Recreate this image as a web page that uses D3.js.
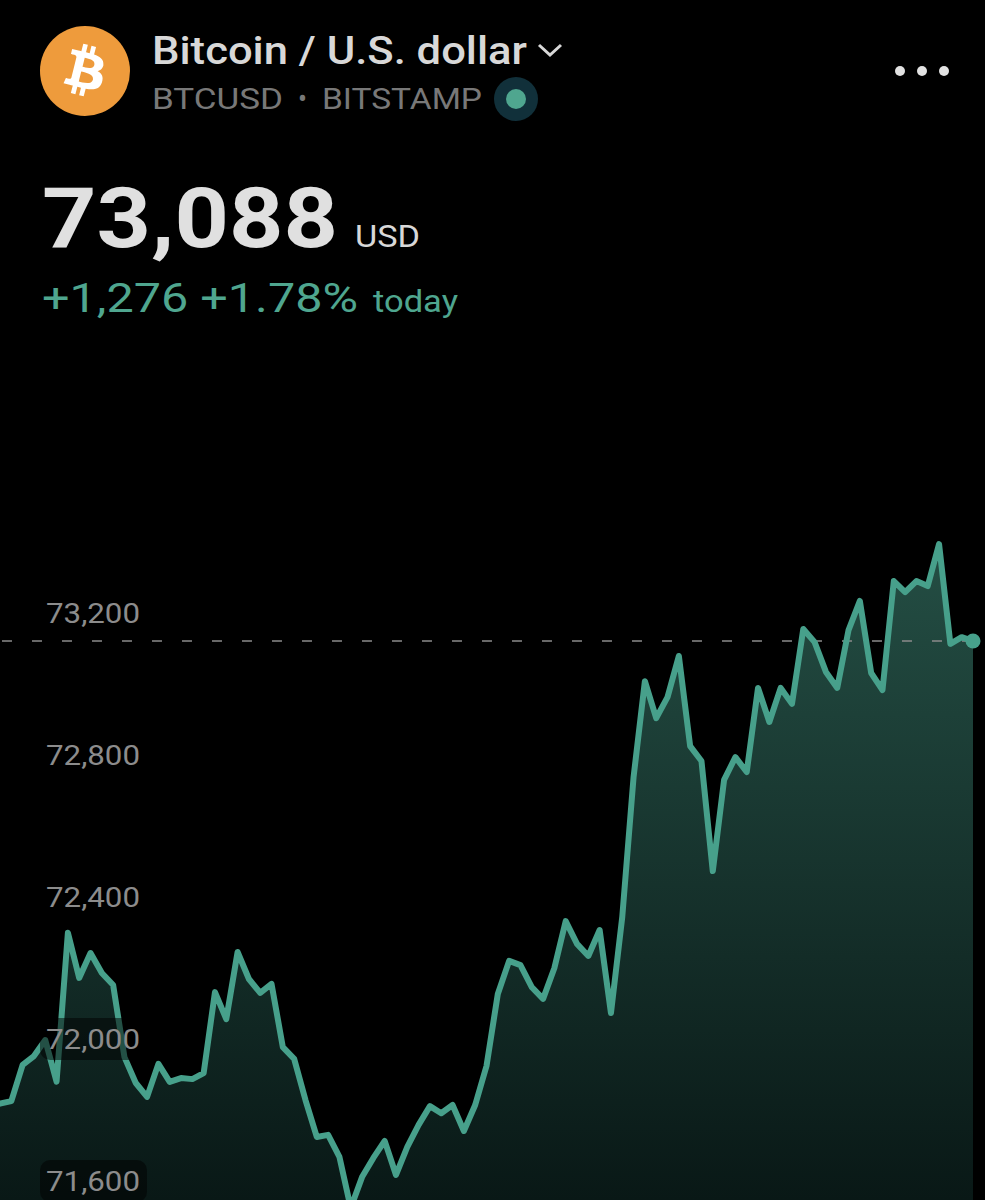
<!DOCTYPE html>
<html>
<head>
<meta charset="utf-8">
<script src="https://cdn.jsdelivr.net/npm/d3@7"></script>
<style>
html,body{margin:0;padding:0;background:#000;}
svg{display:block;}
text{font-family:Roboto,sans-serif;}
</style>
</head>
<body>
<svg id="chart" width="985" height="1200"></svg>
<script>
const prices = [71818,71825,71927,71952,71997,71880,72299,72172,72242,72186,72152,71949,71876,71837,71930,71879,71890,71887,71904,72132,72056,72245,72169,72130,72155,71977,71944,71828,71724,71730,71668,71524,71611,71665,71713,71617,71696,71758,71811,71791,71814,71741,71814,71924,72127,72220,72208,72146,72113,72200,72332,72268,72234,72307,72073,72344,72738,73008,72904,72963,73079,72825,72783,72473,72730,72794,72752,72989,72893,72989,72944,73155,73118,73034,72989,73152,73234,73031,72983,73290,73259,73290,73276,73394,73113,73132,73121];
const yTicks = [73200,72800,72400,72000,71600];
const title = "Bitcoin / U.S. dollar";
const symbol = "BTCUSD";
const separator = "•";
const exchange = "BITSTAMP";
const lastPrice = "73,088";
const currency = "USD";
const change = "+1,276 +1.78%";
const changeSuffix = "today";
const menuDots = [900,922,944];

const svg = d3.select("#chart");
const x = d3.scaleLinear().domain([0,prices.length-1]).range([0,973]);
const y = d3.scaleLinear().domain([71600,73200]).range([1181,613]);

const defs = svg.append("defs");
const grad = defs.append("linearGradient").attr("id","fill").attr("gradientUnits","userSpaceOnUse")
  .attr("x1",0).attr("x2",0).attr("y1",544).attr("y2",1200);
grad.append("stop").attr("offset",0).attr("stop-color","#244e44");
grad.append("stop").attr("offset",1).attr("stop-color","#091816");

svg.append("rect").attr("width",985).attr("height",1200).attr("fill","#000");

function label(str,x0,base,size,width,fill,weight){
  return svg.append("text").attr("x",x0).attr("y",base).attr("font-size",size)
    .attr("font-weight",weight||400).attr("fill",fill)
    .attr("textLength",width).attr("lengthAdjust","spacingAndGlyphs").text(str);
}

// header
svg.append("circle").attr("cx",85).attr("cy",71).attr("r",45).attr("fill","#ee9b3c");
svg.append("path").attr("transform","translate(85,71) scale(1.3) translate(-32,-32)")
  .attr("fill","#fff").attr("fill-rule","evenodd")
  .attr("d","M46.1 27.4c.6-4.3-2.6-6.6-7.1-8.1l1.5-5.8-3.5-.9-1.4 5.7c-.9-.2-1.9-.4-2.8-.7l1.4-5.7-3.5-.9-1.5 5.8c-.8-.2-1.5-.3-2.2-.5l-4.9-1.2-.9 3.8s2.6.6 2.6.6c1.4.4 1.7 1.3 1.6 2l-1.6 6.5-2.3 9.2c-.2.4-.6 1-1.6.8 0 0-2.6-.6-2.6-.6l-1.8 4 4.6 1.1c.9.2 1.7.4 2.5.6l-1.5 5.9 3.5.9 1.5-5.8c1 .3 1.9.5 2.8.7l-1.4 5.8 3.5.9 1.5-5.9c6 1.1 10.6.7 12.5-4.8 1.5-4.4-.1-7-3.3-8.6 2.3-.6 4.1-2.1 4.6-5.3zM38.1 38.7c-1.1 4.4-8.5 2-10.9 1.4l1.9-7.8c2.4.6 10.1 1.8 9 6.4zM39.2 27.3c-1 4-7.1 2-9.1 1.5l1.7-7c2 .5 8.4 1.4 7.4 5.5z");

label(title,152,64,39.5,375,"#d8d8d8",500);
svg.append("path").attr("d","M539,45 L550,55 L561,45").attr("fill","none").attr("stroke","#d8d8d8").attr("stroke-width",3);
label(symbol,152,109,30,131,"#787878");
label(separator,298,109,30,9,"#787878");
label(exchange,322,109,30,160,"#787878");
svg.append("circle").attr("cx",516).attr("cy",99).attr("r",22).attr("fill","#11303a");
svg.append("circle").attr("cx",516).attr("cy",99).attr("r",10).attr("fill","#4fa68f");
svg.selectAll(".menu").data(menuDots).join("circle").attr("class","menu").attr("cx",d=>d).attr("cy",71).attr("r",5).attr("fill","#e2e2e2");

label(lastPrice,42,247,84,296,"#e0e0e0",700);
label(currency,355,247,31,65,"#d8d8d8");
label(change,42,312,40,316,"#4fa68f");
label(changeSuffix,373,312,31,85,"#4fa68f");

// area and line
const area = d3.area().x((d,i)=>x(i)).y0(y(71300)).y1(d=>y(d));
const line = d3.line().x((d,i)=>x(i)).y(d=>y(d));
svg.append("path").datum(prices).attr("d",area).attr("fill","url(#fill)");

// last price dashed line
const last = prices[prices.length-1];
svg.append("line").attr("x1",2).attr("x2",985).attr("y1",y(last)).attr("y2",y(last))
  .attr("stroke","#8a8a8a").attr("stroke-width",1.5).attr("stroke-dasharray","10 20");

svg.append("path").datum(prices).attr("d",line).attr("fill","none").attr("stroke","#47a08b").attr("stroke-width",6).attr("stroke-linejoin","round").attr("stroke-linecap","round");
svg.append("circle").attr("cx",x(prices.length-1)).attr("cy",y(last)).attr("r",7.5).attr("fill","#47a08b");

// label plates
svg.selectAll(".plate").data(yTicks.filter(t=>t<=72000)).join("rect").attr("class","plate")
  .attr("x",40).attr("width",107).attr("y",d=>y(d)-21).attr("height",42).attr("rx",10)
  .attr("fill","#000").attr("fill-opacity",0.5);

const axis = d3.axisLeft(y).tickValues(yTicks).tickSize(0).tickPadding(0).tickFormat(d3.format(","));
const gAxis = svg.append("g").attr("transform","translate(140,0)").call(axis);
gAxis.select(".domain").remove();
gAxis.selectAll("text").attr("font-size",27).attr("font-family","Roboto,sans-serif").attr("fill","#8c8c8c")
  .attr("textLength",94).attr("lengthAdjust","spacingAndGlyphs").attr("dy","0.35em");
</script>
</body>
</html>
